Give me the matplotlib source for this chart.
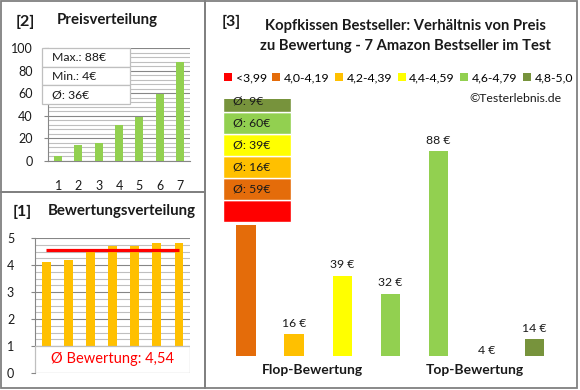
import numpy as np
import matplotlib
matplotlib.use("Agg")
import matplotlib.pyplot as plt
import matplotlib.transforms as mtransforms
from matplotlib.patches import Rectangle, Patch

plt.rcParams['font.family'] = ['Lato', 'DejaVu Sans']

# ---- data ----
ratings = [4.1, 4.2, 4.5, 4.7, 4.7, 4.8, 4.8]
prices = [59, 16, 39, 32, 88, 4, 14]
prices_sorted = sorted(prices)
rank = [1, 2, 3, 4, 5, 6, 7]

class_labels = ['<3,99', '4,0-4,19', '4,2-4,39', '4,4-4,59', '4,6-4,79', '4,8-5,0']
class_colors = ['#FF0000', '#E46C0A', '#FFC000', '#FFFF00', '#92D050', '#77933C']
class_avg = [None, 59, 16, 39, 60, 9]
bar_colors = ['#E46C0A', '#FFC000', '#FFFF00', '#92D050', '#92D050', '#77933C', '#77933C']

W, H = 580, 390
fig = plt.figure(figsize=(W / 100, H / 100), dpi=100)
px = mtransforms.Affine2D().scale(1 / W, -1 / H).translate(0, 1) + fig.transFigure

def add_ax(x0, y0, x1, y1):
    return fig.add_axes([x0 / W, 1 - y1 / H, (x1 - x0) / W, (y1 - y0) / H])

grid_major = '#868686'
grid_minor = '#BFBFBF'
txt = '#1a1a1a'

# panel frames
for r in [(1, 1, 204, 191), (1, 192, 204, 196), (205, 1, 372, 387)]:
    fig.add_artist(Rectangle((r[0], r[1]), r[2], r[3], transform=px, fill=False,
                             edgecolor='#808080', lw=1.3))

# ---------- [2] Preisverteilung ----------
ax1 = add_ax(48, 48, 190, 161)
ax1.bar(rank, prices_sorted, width=0.4, color='#92D050', zorder=3)
ax1.set_xlim(0.5, 7.5)
ax1.set_ylim(0, 100)
ax1.set_yticks(np.arange(0, 101, 20))
ax1.set_yticks(np.arange(0, 101, 4), minor=True)
ax1.set_xticks(rank)
ax1.grid(axis='y', which='major', color=grid_major, lw=0.8, zorder=0)
ax1.grid(axis='y', which='minor', color=grid_minor, lw=0.8, zorder=0)
for s in ['top', 'right']:
    ax1.spines[s].set_visible(False)
ax1.spines['left'].set_color(grid_major)
ax1.spines['bottom'].set_color(grid_major)
ax1.tick_params(axis='y', which='major', length=3, color=grid_major, labelsize=9, labelcolor=txt, pad=8)
ax1.tick_params(axis='y', which='minor', length=0)
ax1.tick_params(axis='x', length=0, labelsize=9, labelcolor=txt, pad=14)

rows = ['Max.: %d€' % max(prices), 'Min.: %d€' % min(prices), 'Ø: %d€' % round(np.mean(prices))]
for k, t in enumerate(rows):
    y0 = 48 + k * 18.7
    fig.add_artist(Rectangle((42, y0), 88, 18.7, transform=px, facecolor='white',
                             edgecolor='#BFBFBF', lw=0.9, zorder=5))
    fig.text(52 / W, 1 - (y0 + 9.6) / H, t, fontsize=8.8, color=txt, va='center', zorder=6)

fig.text(16 / W, 1 - 22 / H, '[2]', fontsize=11.5, fontweight='bold', color=txt, va='center')
fig.text(57 / W, 1 - 20 / H, 'Preisverteilung', fontsize=10.8, fontweight='bold', color=txt, va='center')

# ---------- [1] Bewertungsverteilung ----------
ax2 = add_ax(35, 238, 190, 373)
ax2.bar(rank, ratings, width=0.4, color='#FFC000', zorder=3)
avg = np.mean(ratings)
ax2.hlines(avg, rank[0], rank[-1], color='#FF0000', lw=2.3, zorder=4)
ax2.set_xlim(0.5, 7.5)
ax2.set_ylim(0, 5)
ax2.set_yticks(np.arange(0, 6, 1))
ax2.set_yticks(np.arange(0, 5.01, 0.25), minor=True)
ax2.set_xticks([])
ax2.grid(axis='y', which='major', color=grid_major, lw=0.8, zorder=0)
ax2.grid(axis='y', which='minor', color=grid_minor, lw=0.8, zorder=0)
for s in ['top', 'right', 'bottom']:
    ax2.spines[s].set_visible(False)
ax2.spines['left'].set_color(grid_major)
ax2.tick_params(axis='y', which='major', length=3, color=grid_major, labelsize=9, labelcolor=txt, pad=12)
ax2.tick_params(axis='y', which='minor', length=0)
ax2.add_patch(Rectangle((0, 0), 1, 0.2, transform=ax2.transAxes, facecolor='white',
                        edgecolor='#BFBFBF', lw=0.9, zorder=5))
ax2.text(0.5, 0.1, 'Ø Bewertung: ' + ('%.2f' % avg).replace('.', ','), transform=ax2.transAxes,
         ha='center', va='center', color='#FF0000', fontsize=10.5, zorder=6)

fig.text(13 / W, 1 - 212 / H, '[1]', fontsize=11.5, fontweight='bold', color=txt, va='center')
fig.text(48 / W, 1 - 211 / H, 'Bewertungsverteilung', fontsize=10.8, fontweight='bold', color=txt, va='center')

# ---------- [3] Preis vs. Bewertung ----------
ymin = 7.4
ax3 = add_ax(222, 99, 558.5, 356)
x = np.arange(len(prices))
ax3.bar(x, prices, width=0.4, color=bar_colors, zorder=3)
ax3.set_xlim(-0.5, 6.5)
ax3.set_ylim(ymin, ymin + (356 - 99) / 2.54)
ax3.axis('off')
for xi, v in zip(x, prices):
    if v >= ymin:
        ax3.annotate('%d €' % v, (xi, v), xytext=(0, 4), textcoords='offset points',
                     ha='center', va='bottom', fontsize=8.8, color=txt)
    else:
        ax3.annotate('%d €' % v, (xi, ymin), xytext=(0, 0), textcoords='offset points',
                     ha='center', va='bottom', fontsize=8.8, color=txt)

# stacked average boxes (red at the bottom)
seg = 22 / 2.54
base = 60.2
for k, (c, a) in enumerate(zip(class_colors, class_avg)):
    b = base + k * seg
    ax3.bar(0.23, seg, bottom=b, width=1.42, color=c, edgecolor='white', lw=1.0, zorder=6)
    if a is not None:
        ax3.text(-0.27, b + seg / 2, 'Ø: %d€' % a, fontsize=8.8, color=txt,
                 va='center', ha='left', zorder=7, clip_on=False)

ax3.text(1.375, -0.055, 'Flop-Bewertung', transform=ax3.get_xaxis_transform(),
         ha='center', va='center', fontsize=10, fontweight='bold', color=txt)
ax3.text(4.75, -0.055, 'Top-Bewertung', transform=ax3.get_xaxis_transform(),
         ha='center', va='center', fontsize=10, fontweight='bold', color=txt)

fig.text(222 / W, 1 - 22 / H, '[3]', fontsize=11.5, fontweight='bold', color=txt, va='center')
fig.text(405 / W, 1 - 26 / H, 'Kopfkissen Bestseller: Verhältnis von Preis', fontsize=10.6,
         fontweight='bold', color=txt, ha='center', va='center')
fig.text(405 / W, 1 - 46 / H, 'zu Bewertung - 7 Amazon Bestseller im Test', fontsize=10.6,
         fontweight='bold', color=txt, ha='center', va='center')

handles = [Patch(facecolor=c, edgecolor='none') for c in class_colors]
fig.legend(handles, class_labels, loc='center left', bbox_to_anchor=(224 / W, 1 - 78 / H),
           ncol=6, fontsize=8.8, frameon=False, handlelength=0.65, handleheight=0.65,
           handletextpad=0.3, columnspacing=0.45, borderpad=0, borderaxespad=0)
fig.text(562 / W, 1 - 98 / H, '©Testerlebnis.de', fontsize=8.8, color=txt, ha='right', va='center')

fig.savefig('out.png', dpi=100)
